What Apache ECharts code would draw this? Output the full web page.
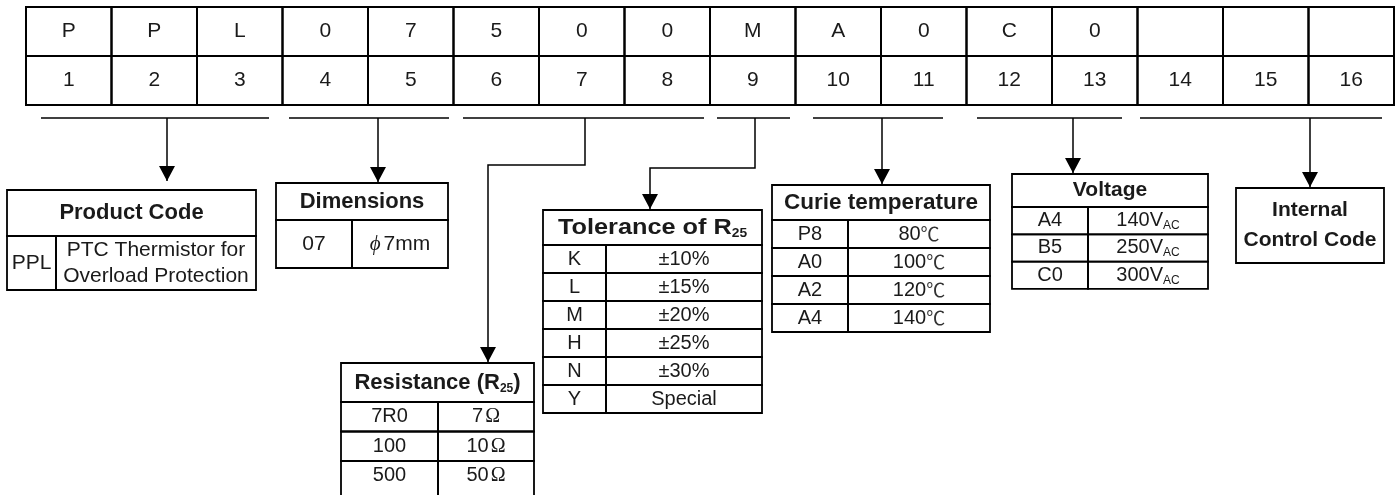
<!DOCTYPE html>
<html>
<head>
<meta charset="utf-8">
<script src="https://cdn.jsdelivr.net/npm/echarts@6/dist/echarts.min.js"></script>
<style>html,body{margin:0;padding:0;background:#fff}#c{width:1398px;height:495px}</style>
</head>
<body>
<div id="c"></div>
<script>
// ---------------- data (text content) ----------------
const codeLetters   = ['P','P','L','0','7','5','0','0','M','A','0','C','0','','',''];
const codePositions = ['1','2','3','4','5','6','7','8','9','10','11','12','13','14','15','16'];

const productTitle    = 'Product Code';
const productCodes    = ['PPL'];
const productMeanings = ['PTC Thermistor for\nOverload Protection'];

const dimensionTitle  = 'Dimensions';
const dimensionCodes  = ['07'];
const dimensionValues = ['{phi|\u03d5}7mm'];

const resistanceTitle  = 'Resistance (R{hsub|25})';
const resistanceCodes  = ['7R0','100','500'];
const resistanceValues = ['7{ohm|\u03a9}','10{ohm|\u03a9}','50{ohm|\u03a9}'];

const toleranceTitle  = 'Tolerance of R{hsub|25}';
const toleranceCodes  = ['K','L','M','H','N','Y'];
const toleranceValues = ['\u00b110%','\u00b115%','\u00b120%','\u00b125%','\u00b130%','Special'];

const curieTitle  = 'Curie temperature';
const curieCodes  = ['P8','A0','A2','A4'];
const curieValues = ['80{deg|\u2103}','100{deg|\u2103}','120{deg|\u2103}','140{deg|\u2103}'];

const voltageTitle  = 'Voltage';
const voltageCodes  = ['A4','B5','C0'];
const voltageValues = ['140V{sub|AC}','250V{sub|AC}','300V{sub|AC}'];

const internalTitle = 'Internal\nControl Code';

// ---------------- layout (diagram units = pixels on hidden value axes) ----------------
const W = 1398, H = 495;
const layout = {
  top: {left: 26, right: 1394, top: 7, mid: 56, bottom: 105},
  bracketY: 118,
  brackets: [[41,269],[289,449],[463,704],[717,790],[813,943],[977,1122],[1140,1382]],
  connectors: [
    [[167,118],[167,181]],
    [[378,118],[378,182]],
    [[585,118],[585,165],[488,165],[488,362]],
    [[755,118],[755,168],[650,168],[650,209]],
    [[882,118],[882,184]],
    [[1073,118],[1073,173]],
    [[1310,118],[1310,187]]
  ],
  product:  {left: 7,    right: 256,  split: 56,   top: 190, head: 236, rowH: 54},
  dims:     {left: 276,  right: 448,  split: 352,  top: 183, head: 220, rowH: 48},
  resist:   {left: 341,  right: 534,  split: 438,  top: 363, head: 402, rowH: 29.5, extend: 515},
  tol:      {left: 543,  right: 762,  split: 606,  top: 210, head: 245, rowH: 28},
  curie:    {left: 772,  right: 990,  split: 848,  top: 185, head: 220, rowH: 28},
  volt:     {left: 1012, right: 1208, split: 1088, top: 174, head: 207, rowH: 27.3},
  internal: {left: 1236, right: 1384, top: 188, bottom: 263}
};

// ---------------- styles ----------------
const FONT = "'Liberation Sans', Arial, Helvetica, sans-serif";
const TEXT = '#1a1a1a';
const styles = {
  code:  {fontSize: 21,   fontWeight: 'normal', lineHeight: 24},
  head:  {fontSize: 22,   fontWeight: 'bold',   lineHeight: 24},
  headT: {fontSize: 22,   fontWeight: 'bold',   lineHeight: 24, scaleX: 1.15},
  headC: {fontSize: 22.5, fontWeight: 'bold',   lineHeight: 24},
  headV: {fontSize: 21,   fontWeight: 'bold',   lineHeight: 24},
  body:  {fontSize: 21,   fontWeight: 'normal', lineHeight: 26},
  row:   {fontSize: 20,   fontWeight: 'normal', lineHeight: 22},
  inner: {fontSize: 21,   fontWeight: 'bold',   lineHeight: 30}
};
const rich = {
  hsub: {fontSize: 12, fontWeight: 'bold', fontFamily: FONT, fill: TEXT, verticalAlign: 'bottom', lineHeight: 12},
  sub:  {fontSize: 12, fontFamily: FONT, fill: TEXT, verticalAlign: 'bottom', lineHeight: 12},
  ohm:  {fontSize: 20, fontFamily: "'Liberation Serif', serif", fill: TEXT, padding: [0,0,0,2]},
  deg:  {fontSize: 19, fontFamily: "'Noto Sans CJK SC', sans-serif", fill: '#333'},
  phi:  {fontSize: 21, fontFamily: "'Liberation Serif', serif", fontStyle: 'italic', fill: TEXT, padding: [0,3,0,0]}
};

// ---------------- build cells ----------------
const cells = [];
function addCell(x0, y0, x1, y1, text, style, lw, ty) {
  cells.push({x0, y0, x1, y1, text, style, lw, ty: ty == null ? (y0 + y1) / 2 : ty});
}
(function buildTop() {
  const T = layout.top, n = codeLetters.length, cw = (T.right - T.left) / n;
  for (let i = 0; i < n; i++) {
    addCell(T.left + i * cw, T.top, T.left + (i + 1) * cw, T.mid, codeLetters[i], 'code', 2);
    addCell(T.left + i * cw, T.mid, T.left + (i + 1) * cw, T.bottom, codePositions[i], 'code', 2);
  }
})();
function addTable(box, title, codes, values, headStyle, rowStyle) {
  addCell(box.left, box.top, box.right, box.head, title, headStyle, 1.8);
  codes.forEach((c, i) => {
    const y0 = box.head + i * box.rowH;
    let y1 = y0 + box.rowH;
    const ty = (y0 + y1) / 2;
    if (box.extend && i === codes.length - 1) y1 = box.extend;
    addCell(box.left, y0, box.split, y1, c, rowStyle, 1.8, ty);
    addCell(box.split, y0, box.right, y1, values[i], rowStyle, 1.8, ty);
  });
}
addTable(layout.product, productTitle, productCodes, productMeanings, 'head', 'body');
addTable(layout.dims, dimensionTitle, dimensionCodes, dimensionValues, 'head', 'body');
addTable(layout.resist, resistanceTitle, resistanceCodes, resistanceValues, 'head', 'row');
addTable(layout.tol, toleranceTitle, toleranceCodes, toleranceValues, 'headT', 'row');
addTable(layout.curie, curieTitle, curieCodes, curieValues, 'headC', 'row');
addTable(layout.volt, voltageTitle, voltageCodes, voltageValues, 'headV', 'row');
addCell(layout.internal.left, layout.internal.top, layout.internal.right, layout.internal.bottom, internalTitle, 'inner', 1.8);

const lines = layout.brackets.map(b => [[b[0], layout.bracketY], [b[1], layout.bracketY]])
  .concat(layout.connectors);
const arrowTips = layout.connectors.map(c => c[c.length - 1]);

// ---------------- chart ----------------
const chart = echarts.init(document.getElementById('c'), null, {renderer: 'canvas'});
chart.setOption({
  animation: false,
  backgroundColor: '#fff',
  grid: {left: 0, right: 0, top: 0, bottom: 0},
  xAxis: {type: 'value', min: 0, max: W, show: false},
  yAxis: {type: 'value', min: 0, max: H, inverse: true, show: false},
  series: [
    {
      type: 'custom', silent: true,
      data: lines.map((l, i) => [l[0][0], l[0][1], i]),
      renderItem: function (params, api) {
        const pts = lines[params.dataIndex].map(p => api.coord(p));
        return {type: 'polyline', shape: {points: pts}, style: {stroke: '#000', lineWidth: 1.5, fill: null}};
      }
    },
    {
      type: 'custom', silent: true,
      data: arrowTips.map(p => [p[0], p[1]]),
      renderItem: function (params, api) {
        const tip = api.coord([api.value(0), api.value(1)]);
        const l = api.coord([api.value(0) - 8, api.value(1) - 15]);
        const r = api.coord([api.value(0) + 8, api.value(1) - 15]);
        return {type: 'polygon', shape: {points: [tip, l, r]}, style: {fill: '#000'}};
      }
    },
    {
      type: 'custom', silent: true,
      data: cells.map(c => [c.x0, c.y0, c.x1, c.y1]),
      renderItem: function (params, api) {
        const c = cells[params.dataIndex];
        const a = api.coord([c.x0, c.y0]), b = api.coord([c.x1, c.y1]);
        const t = api.coord([(c.x0 + c.x1) / 2, c.ty]);
        const st = styles[c.style];
        const children = [{
          type: 'rect',
          shape: {x: a[0], y: a[1], width: b[0] - a[0], height: b[1] - a[1]},
          style: {fill: null, stroke: '#000', lineWidth: c.lw}
        }];
        if (c.text) {
          children.push({
            type: 'text',
            x: t[0], y: t[1], scaleX: st.scaleX || 1,
            style: {
              text: c.text, x: 0, y: 0, align: 'center', verticalAlign: 'middle',
              fontSize: st.fontSize, fontWeight: st.fontWeight, fontFamily: FONT,
              lineHeight: st.lineHeight, fill: TEXT, rich: rich
            }
          });
        }
        return {type: 'group', children: children};
      }
    }
  ]
});
</script>
</body>
</html>
